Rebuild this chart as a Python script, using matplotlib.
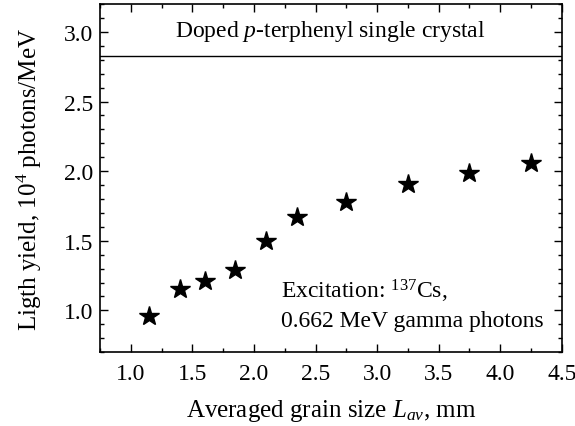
import matplotlib
matplotlib.use("Agg")
import matplotlib.pyplot as plt
from matplotlib.ticker import MultipleLocator

plt.rcParams['font.family'] = ['Liberation Serif', 'DejaVu Serif']
plt.rcParams['mathtext.fontset'] = 'custom'
plt.rcParams['mathtext.rm'] = 'Liberation Serif'
plt.rcParams['mathtext.it'] = 'Liberation Serif:italic'

# grain size (mm) and light yield (10^4 photons/MeV)
grain_size = [1.15, 1.4, 1.6, 1.85, 2.1, 2.35, 2.75, 3.25, 3.75, 4.25]
light_yield = [0.96, 1.15, 1.21, 1.29, 1.50, 1.67, 1.78, 1.91, 1.99, 2.06]
crystal_level = 2.83

fig = plt.figure(figsize=(5.75, 4.27), dpi=100)
ax = fig.add_axes([0.174, 0.173, 0.803, 0.815])

ax.plot(grain_size, light_yield, linestyle="none", marker="*", markersize=15,
        color="black")
ax.axhline(crystal_level, color="black", linewidth=1.0)

ax.text(2.62, 3.01, "Doped $\\it{p}$-terphenyl single crystal", fontsize=17,
        ha="center", va="center")
ax.text(2.22, 1.14, "Excitation: $^{137}$Cs,", fontsize=17, ha="left", va="center")
ax.text(2.22, 0.925, "0.662 MeV gamma photons", fontsize=17, ha="left", va="center")

ax.set_xlim(0.75, 4.5)
ax.set_ylim(0.7, 3.2)
ax.xaxis.set_major_locator(MultipleLocator(0.5))
ax.xaxis.set_minor_locator(MultipleLocator(0.25))
ax.yaxis.set_major_locator(MultipleLocator(0.5))
ax.yaxis.set_minor_locator(MultipleLocator(0.1))
ax.tick_params(which="both", direction="in", top=True, right=True,
               labelsize=17, width=1.0)
ax.tick_params(which="major", length=6)
ax.tick_params(axis="x", which="major", pad=8)
ax.tick_params(axis="y", which="major", pad=5)
ax.tick_params(which="minor", length=3)
for s in ax.spines.values():
    s.set_linewidth(1.2)

ax.set_xlabel("Averaged grain size $\\it{L}_{\\it{av}}$, mm", fontsize=18, labelpad=9)
ax.set_ylabel("Ligth yield, 10$^4$ photons/MeV", fontsize=18, labelpad=14)

fig.savefig("out.png", dpi=100)
